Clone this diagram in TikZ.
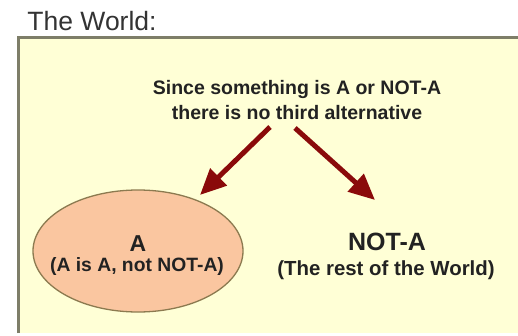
\documentclass[tikz,border=0pt]{standalone}
\usepackage{fontspec}
\setmainfont{Liberation Sans}
\usetikzlibrary{arrows.meta,shapes.geometric}
\definecolor{bgyellow}{HTML}{FFFFD6}
\definecolor{frameol}{HTML}{7E7E68}
\definecolor{peach}{HTML}{FAC6A0}
\definecolor{ellborder}{HTML}{8C7A50}
\definecolor{arrowred}{HTML}{8A0A0A}
\definecolor{txt}{HTML}{222222}
\tikzset{
  x=1pt,y=1pt,
  lbl/.style={inner sep=0pt,text=txt,font=\bfseries},
  bigarrow/.style={arrowred,line width=5pt,-{Triangle[length=26pt,width=23pt]},shorten >=0pt}
}
\begin{document}
\begin{tikzpicture}
\useasboundingbox (0,0) rectangle (518,335);
\fill[white] (0,0) rectangle (518,335);
% world box
\fill[bgyellow] (18,2) rectangle (518,297);
\draw[frameol,line width=2.5pt] (18.5,2) -- (18.5,297.5) -- (518,297.5);
% title
\node[inner sep=0pt,text=black!80,font=\fontsize{26.5}{30}\selectfont] (title) at (92,314) {The World:};
% top statement
\node[lbl,font=\bfseries\fontsize{19.5}{23}\selectfont] (top1) at (297,245) {Since something is A or NOT-A};
\node[lbl,font=\bfseries\fontsize{19.5}{23}\selectfont] (top2) at (297,222) {there is no third alternative};
% ellipse A
\node[ellipse,draw=ellborder,line width=1.3pt,fill=peach,minimum width=210pt,minimum height=122pt,inner sep=0pt] (a) at (138,84) {};
\node[lbl,font=\bfseries\fontsize{23}{26}\selectfont] (atitle) at (138,91) {A};
\node[lbl,font=\bfseries\fontsize{19.3}{22}\selectfont] (asub) at (137,68) {(A is A, not NOT-A)};
% NOT-A
\node[lbl,font=\bfseries\fontsize{25}{28}\selectfont] (ntitle) at (387,93) {NOT-A};
\node[lbl,font=\bfseries\fontsize{20.4}{23}\selectfont] (nsub) at (386,65) {(The rest of the World)};
% arrows
\coordinate (s1) at (270,208);
\coordinate (t1) at (200,140);
\coordinate (s2) at (295,207);
\coordinate (t2) at (375,135);
\draw[bigarrow] (s1) -- (t1);
\draw[bigarrow] (s2) -- (t2);
\end{tikzpicture}
\end{document}
